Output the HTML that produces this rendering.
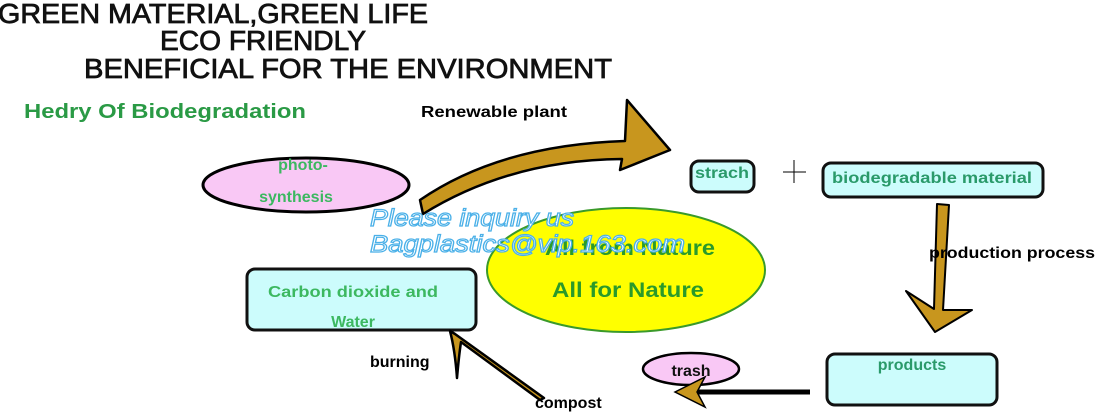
<!DOCTYPE html>
<html><head><meta charset="utf-8"><style>
html,body{margin:0;padding:0;background:#fff;width:1099px;height:415px;overflow:hidden}
svg{display:block}
.t{font-family:"Liberation Sans",sans-serif}
</style></head><body>
<svg width="1099" height="415" viewBox="0 0 1099 415" xmlns="http://www.w3.org/2000/svg">
<g class="t" fill="#111" stroke="#111" stroke-width="0.8" font-size="28">
<text x="-2" y="23" textLength="430" lengthAdjust="spacingAndGlyphs">GREEN MATERIAL,GREEN LIFE</text>
<text x="160" y="50" textLength="206" lengthAdjust="spacingAndGlyphs">ECO FRIENDLY</text>
<text x="84" y="78" textLength="528" lengthAdjust="spacingAndGlyphs">BENEFICIAL FOR THE ENVIRONMENT</text>
</g>
<text class="t" x="24" y="118" font-size="20" font-weight="bold" fill="#2a9a45" textLength="282" lengthAdjust="spacingAndGlyphs">Hedry Of Biodegradation</text>
<text class="t" x="421" y="117" font-size="16" font-weight="bold" fill="#000" textLength="146" lengthAdjust="spacingAndGlyphs">Renewable plant</text>

<ellipse cx="306" cy="185" rx="103" ry="27" fill="#f9c8f5" stroke="#000" stroke-width="3"/>
<text class="t" x="303" y="170" font-size="16" font-weight="bold" fill="#3cb860" text-anchor="middle">photo-</text>
<text class="t" x="296" y="202" font-size="16" font-weight="bold" fill="#3cb860" text-anchor="middle">synthesis</text>

<ellipse cx="626" cy="270" rx="139" ry="62" fill="#ffff00" stroke="#3a9a2a" stroke-width="2"/>
<text class="t" x="630" y="255" font-size="21" font-weight="bold" fill="#2a9a2a" text-anchor="middle" textLength="170" lengthAdjust="spacingAndGlyphs">All from Nature</text>
<text class="t" x="628" y="297" font-size="21" font-weight="bold" fill="#2a9a2a" text-anchor="middle" textLength="152" lengthAdjust="spacingAndGlyphs">All for Nature</text>

<path d="M420,200 Q500,145 625,141 L627,100 L670,150 L620,170 L622,159 Q510,160 423,214 Z" fill="#c8961e" stroke="#000" stroke-width="2.5" stroke-linejoin="round"/>

<rect x="691" y="161" width="63" height="31" rx="8" fill="#ccfcfc" stroke="#111" stroke-width="3"/>
<text class="t" x="722" y="178" font-size="16" font-weight="bold" fill="#2a9a6a" text-anchor="middle" textLength="54" lengthAdjust="spacingAndGlyphs">strach</text>
<path d="M783,172 H806 M794,160 V183" stroke="#000" stroke-width="1"/>
<rect x="823" y="163" width="220" height="34" rx="8" fill="#ccfcfc" stroke="#111" stroke-width="3"/>
<text class="t" x="932" y="183" font-size="16" font-weight="bold" fill="#2a9a6a" text-anchor="middle" textLength="200" lengthAdjust="spacingAndGlyphs">biodegradable material</text>

<path d="M937,204 L949,205 L943,310 L972,310 L935,332 L906,291 L934,309 Z" fill="#c8961e" stroke="#000" stroke-width="2" stroke-linejoin="round"/>
<text class="t" x="929" y="258" font-size="16" font-weight="bold" fill="#000" textLength="166" lengthAdjust="spacingAndGlyphs">production process</text>

<rect x="247" y="269" width="229" height="61" rx="8" fill="#ccfcfc" stroke="#111" stroke-width="3"/>
<text class="t" x="353" y="297" font-size="16" font-weight="bold" fill="#3cb860" text-anchor="middle" textLength="170" lengthAdjust="spacingAndGlyphs">Carbon dioxide and</text>
<text class="t" x="353" y="327" font-size="16" font-weight="bold" fill="#3cb860" text-anchor="middle">Water</text>

<rect x="827" y="354" width="170" height="51" rx="8" fill="#ccfcfc" stroke="#111" stroke-width="3"/>
<text class="t" x="912" y="370" font-size="16" font-weight="bold" fill="#2a9a6a" text-anchor="middle">products</text>

<ellipse cx="691" cy="369" rx="48" ry="16" fill="#f9c8f5" stroke="#000" stroke-width="2.5"/>
<text class="t" x="691" y="376" font-size="16" font-weight="bold" fill="#111" text-anchor="middle">trash</text>

<path d="M810,392 H690" stroke="#000" stroke-width="5"/>
<path d="M675,392 L705,377 L697,392 L705,407 Z" fill="#c8961e" stroke="#000" stroke-width="1.5"/>

<path d="M544,398 L455,334 L450,331 Q455,350 457,378 Q459,355 461,342 L540,400 Z" fill="#c8961e" stroke="#000" stroke-width="2.5" stroke-linejoin="round"/>
<text class="t" x="370" y="367" font-size="16" font-weight="bold" fill="#000">burning</text>
<text class="t" x="535" y="408" font-size="16" font-weight="bold" fill="#000">compost</text>

<g font-size="24" font-style="italic" fill="#ffffff" stroke="#4ab0e8" stroke-width="1.2" class="t">
<text x="370" y="226" textLength="204" lengthAdjust="spacingAndGlyphs">Please inquiry us</text>
<text x="370" y="252" textLength="315" lengthAdjust="spacingAndGlyphs">Bagplastics@vip.163.com</text>
</g>
</svg>
</body></html>
